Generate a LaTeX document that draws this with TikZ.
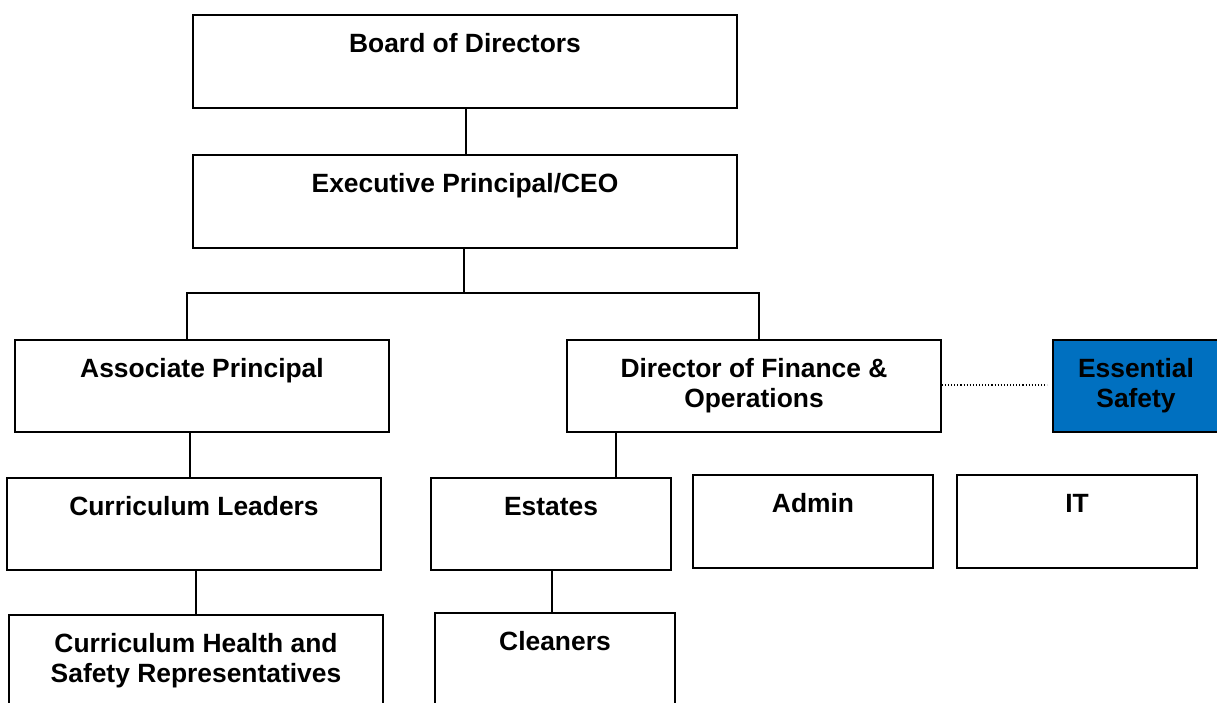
\documentclass[tikz,border=0pt]{standalone}
\usepackage{fontspec}
\setmainfont{Liberation Sans}
\definecolor{essblue}{RGB}{0,112,192}
\newcommand\boxtext[3]{\parbox[c][#2][t]{#1}{\centering\rule{0pt}{37pt}#3\par}}
\tikzset{
  orgbox/.style={draw=black, line width=1.6pt, inner sep=0pt, font=\bfseries\fontsize{26.4}{30}\selectfont},
  link/.style={draw=black, line width=1.6pt},
  dotlink/.style={draw=black, line width=1.1pt, dotted, shorten >=5pt},
}
\begin{document}
\begin{tikzpicture}[x=1pt, y=-1pt]
\useasboundingbox (0,0) rectangle (1217,702);
\node[orgbox] (board) at (465,61.5) {\boxtext{544pt}{93pt}{Board of Directors}};
\node[orgbox] (exec) at (465,201.5) {\boxtext{544pt}{93pt}{Executive Principal/CEO}};
\node[orgbox] (assoc) at (202,386) {\boxtext{374pt}{92pt}{Associate Principal}};
\node[orgbox] (dir) at (754,386) {\boxtext{374pt}{92pt}{Director of Finance \&\\Operations}};
\node[orgbox, fill=essblue] (ess) at (1136,386) {\boxtext{166pt}{92pt}{Essential\\Safety}};
\node[orgbox] (currl) at (194,524) {\boxtext{374pt}{92pt}{Curriculum Leaders}};
\node[orgbox] (estates) at (551,524) {\boxtext{240pt}{92pt}{Estates}};
\node[orgbox] (admin) at (813,521.5) {\boxtext{240pt}{93pt}{Admin}};
\node[orgbox] (it) at (1077,521.5) {\boxtext{240pt}{93pt}{IT}};
\node[orgbox] (chs) at (196,661.5) {\boxtext{374pt}{93pt}{Curriculum Health and\\Safety Representatives}};
\node[orgbox] (clean) at (555,659.5) {\boxtext{240pt}{93pt}{Cleaners}};
\coordinate (bus) at (464,293);
% connectors
\draw[link] (466,0 |- board.south) -- (466,0 |- exec.north);
\draw[link] (464,0 |- exec.south) -- (bus);
\draw[link] (187,0 |- assoc.north) -- (187,0 |- bus) -- (759,0 |- bus) -- (759,0 |- dir.north);
\draw[dotlink] (dir.east |- 0,385) -- (ess.west |- 0,385);
\draw[link] (190,0 |- assoc.south) -- (190,0 |- currl.north);
\draw[link] (616,0 |- dir.south) -- (616,0 |- estates.north);
\draw[link] (196,0 |- currl.south) -- (196,0 |- chs.north);
\draw[link] (552,0 |- estates.south) -- (552,0 |- clean.north);
\end{tikzpicture}
\end{document}
